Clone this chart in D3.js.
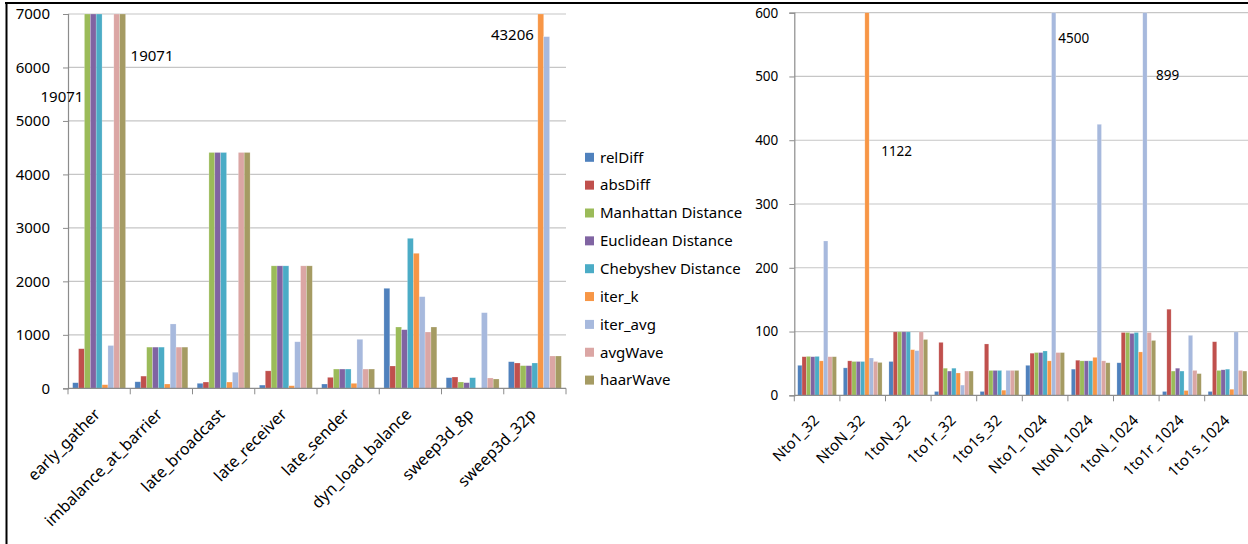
<!DOCTYPE html>
<html>
<head>
<meta charset="utf-8">
<script src="https://cdn.jsdelivr.net/npm/d3@7"></script>
<style>
  body { margin: 0; background: #fff; }
  svg { display: block; font-family: "Noto Sans", "Open Sans", sans-serif; }
</style>
</head>
<body>
<svg id="coversvg" width="1248" height="544"></svg>
<script>
// series names shared by both charts
var seriesNames = ['relDiff', 'absDiff', 'Manhattan Distance', 'Euclidean Distance',
    'Chebyshev Distance', 'iter_k', 'iter_avg', 'avgWave', 'haarWave'];
var seriesColors = ['#4f81bd', '#c0504d', '#9bbb59', '#8064a2', '#4bacc6',
    '#f79646', '#a7b9dd', '#dba6a4', '#a59b63'];

// left chart
var leftCats = ['early_gather', 'imbalance_at_barrier', 'late_broadcast', 'late_receiver',
    'late_sender', 'dyn_load_balance', 'sweep3d_8p', 'sweep3d_32p'];
var leftRelDiff   = [104, 122, 93, 60, 80, 1870, 198, 497];
var leftAbsDiff   = [740, 228, 117, 326, 205, 417, 211, 473];
var leftManhattan = [19071, 770, 4410, 2290, 360, 1146, 118, 423];
var leftEuclidean = [19071, 770, 4410, 2290, 360, 1096, 105, 423];
var leftChebyshev = [19071, 770, 4410, 2290, 360, 2805, 198, 473];
var leftIterK     = [67, 80, 117, 48, 93, 2525, 0, 43206];
var leftIterAvg   = [800, 1203, 300, 870, 916, 1713, 1414, 6576];
var leftAvgWave   = [19071, 770, 4410, 2290, 360, 1053, 193, 604];
var leftHaarWave  = [19071, 770, 4410, 2290, 360, 1146, 174, 604];
var leftTicks = [0, 1000, 2000, 3000, 4000, 5000, 6000, 7000];

// right chart
var rightCats = ['Nto1_32', 'NtoN_32', '1toN_32', '1to1r_32', '1to1s_32',
    'Nto1_1024', 'NtoN_1024', '1toN_1024', '1to1r_1024', '1to1s_1024'];
var rightRelDiff   = [47, 43, 53, 6, 6, 47, 41, 51, 6, 6];
var rightAbsDiff   = [60.5, 54, 99.5, 83, 80.5, 66, 55, 98.5, 135, 84];
var rightManhattan = [61, 53, 99.5, 42.5, 39, 67, 54, 98.5, 38, 39];
var rightEuclidean = [60.5, 53, 99.5, 38, 39, 67, 54, 97, 42.5, 40];
var rightChebyshev = [61, 53, 99.5, 42.5, 39, 69.5, 54, 98.5, 38, 41];
var rightIterK     = [54, 1122, 71.5, 35, 8, 54, 59.5, 68, 7.5, 9.5];
var rightIterAvg   = [242, 58.5, 70, 16, 39, 4500, 425, 899, 94, 99.5];
var rightAvgWave   = [60.5, 53, 99.5, 38, 39, 67, 54, 98.5, 39, 39];
var rightHaarWave  = [60.5, 51.5, 87.5, 38, 39, 67, 51, 86, 34, 38];
var rightTicks = [0, 100, 200, 300, 400, 500, 600];

var leftSeries = [leftRelDiff, leftAbsDiff, leftManhattan, leftEuclidean, leftChebyshev,
    leftIterK, leftIterAvg, leftAvgWave, leftHaarWave];
var rightSeries = [rightRelDiff, rightAbsDiff, rightManhattan, rightEuclidean, rightChebyshev,
    rightIterK, rightIterAvg, rightAvgWave, rightHaarWave];

var svg = d3.select('#coversvg');

function drawBarChart(opt)
{
    var cats = opt.cats, series = opt.series;
    var chart = svg.append('g');

    var x0 = d3.scaleBand()
        .domain(cats)
        .range([opt.left, opt.right])
        .paddingInner(0.15)
        .paddingOuter(0.075);
    var x1 = d3.scaleBand()
        .domain(seriesNames)
        .range([0, x0.bandwidth()]);
    var y = d3.scaleLinear()
        .domain([0, opt.max])
        .range([opt.bottom, opt.top])
        .clamp(true);

    // gridlines
    chart.append('g')
        .selectAll('line')
        .data(opt.ticks.slice(1))
        .enter().append('line')
        .attr('x1', opt.left).attr('x2', opt.gridEnd)
        .attr('y1', (d) => y(d)).attr('y2', (d) => y(d))
        .style('stroke', '#c6c6c6')
        .style('stroke-width', 1.2);

    // y axis
    var yAxis = chart.append('g')
        .attr('transform', 'translate(' + opt.left + ',0)')
        .call(d3.axisLeft(y).tickValues(opt.ticks).tickFormat(d3.format('d'))
            .tickSize(5).tickPadding(opt.tickPad));
    yAxis.select('.domain').style('stroke', '#8c8c8c').style('stroke-width', 1.2);
    yAxis.selectAll('.tick line').style('stroke', '#8c8c8c');
    yAxis.selectAll('.tick text')
        .style('font-size', opt.font + 'px')
        .style('font-family', '"Noto Sans", sans-serif')
        .style('fill', '#000');

    // bars
    var groups = chart.selectAll('.grp')
        .data(cats)
        .enter().append('g')
        .attr('class', 'grp')
        .attr('transform', (c) => 'translate(' + x0(c) + ',0)');

    groups.selectAll('rect')
        .data((c, ci) => seriesNames.map(function (s, si) { return {s: s, v: series[si][ci], i: si}; }))
        .enter().append('rect')
        .attr('x', (d) => x1(d.s))
        .attr('y', (d) => y(d.v))
        .attr('width', x1.bandwidth())
        .attr('height', (d) => opt.bottom - y(d.v))
        .style('fill', (d) => seriesColors[d.i])
        .style('stroke', 'rgba(255,255,255,0.35)')
        .style('stroke-width', 0.6);

    // x axis: baseline and ticks at category boundaries
    var xa = chart.append('g');
    xa.append('line')
        .attr('x1', opt.left).attr('x2', opt.gridEnd)
        .attr('y1', opt.bottom).attr('y2', opt.bottom)
        .style('stroke', '#8c8c8c').style('stroke-width', 1.2);
    var bounds = cats.map((c) => x0(c) - x0.step() * 0.075).concat([opt.right]);
    xa.selectAll('.xt')
        .data(bounds)
        .enter().append('line')
        .attr('x1', (d) => d).attr('x2', (d) => d)
        .attr('y1', opt.bottom).attr('y2', opt.bottom + 6)
        .style('stroke', '#8c8c8c');

    // category labels, rotated
    xa.selectAll('.xl')
        .data(cats)
        .enter().append('text')
        .attr('transform', (c) => 'translate(' + (x0(c) + x0.bandwidth() / 2 + opt.labDx) + ',' + (opt.bottom + opt.labDy) + ') rotate(-45)')
        .attr('text-anchor', 'end')
        .style('font-size', opt.labFont + 'px')
        .text((c) => c);

    // value labels for clipped bars
    opt.notes.forEach(function (n) {
        var ci = cats.indexOf(n.cat);
        var bx = x0(n.cat) + x1(seriesNames[n.series]);
        chart.append('text')
            .attr('x', n.anchor == 'end' ? bx + n.dx : bx + x1.bandwidth() + n.dx)
            .attr('y', y(n.yAt))
            .attr('text-anchor', n.anchor)
            .attr('dy', '0.35em')
            .style('font-size', opt.font + 'px')
            .text(series[n.series][ci]);
    });
}

drawBarChart({
    cats: leftCats, series: leftSeries, ticks: leftTicks, max: 7000,
    left: 68, right: 566, gridEnd: 566, top: 14, bottom: 388.3,
    font: 15, labFont: 16, tickPad: 13, labDx: 2, labDy: 27,
    notes: [
        {cat: 'early_gather', series: 2, anchor: 'end', dx: -1, yAt: 5460},
        {cat: 'early_gather', series: 8, anchor: 'start', dx: 5, yAt: 6220},
        {cat: 'sweep3d_32p', series: 5, anchor: 'end', dx: -4, yAt: 6620}
    ]
});

drawBarChart({
    cats: rightCats, series: rightSeries, ticks: rightTicks, max: 600,
    left: 794.3, right: 1250.3, gridEnd: 1250, top: 12.7, bottom: 395.3,
    font: 13.5, labFont: 15, tickPad: 11, labDx: 3, labDy: 26,
    notes: [
        {cat: 'NtoN_32', series: 5, anchor: 'start', dx: 12, yAt: 382},
        {cat: 'Nto1_1024', series: 6, anchor: 'start', dx: 2.5, yAt: 560},
        {cat: '1toN_1024', series: 6, anchor: 'start', dx: 9, yAt: 502}
    ]
});

// legend
var legend = svg.append('g');
legend.selectAll('rect')
    .data(seriesNames)
    .enter().append('rect')
    .attr('x', 585)
    .attr('y', (d, i) => 157.3 + i * 27.85 - 4.5)
    .attr('width', 9).attr('height', 9)
    .style('fill', (d, i) => seriesColors[i]);
legend.selectAll('text')
    .data(seriesNames)
    .enter().append('text')
    .attr('x', 600)
    .attr('y', (d, i) => 157.3 + i * 27.85)
    .attr('dy', '0.35em')
    .style('font-size', '15px')
    .text((d) => d);

// frame of the screenshot
svg.append('line').attr('x1', 5).attr('x2', 1248).attr('y1', 3).attr('y2', 3)
    .style('stroke', '#000').style('stroke-width', 2);
svg.append('line').attr('x1', 6.5).attr('x2', 6.5).attr('y1', 2).attr('y2', 544)
    .style('stroke', '#000').style('stroke-width', 2);
</script>
</body>
</html>
